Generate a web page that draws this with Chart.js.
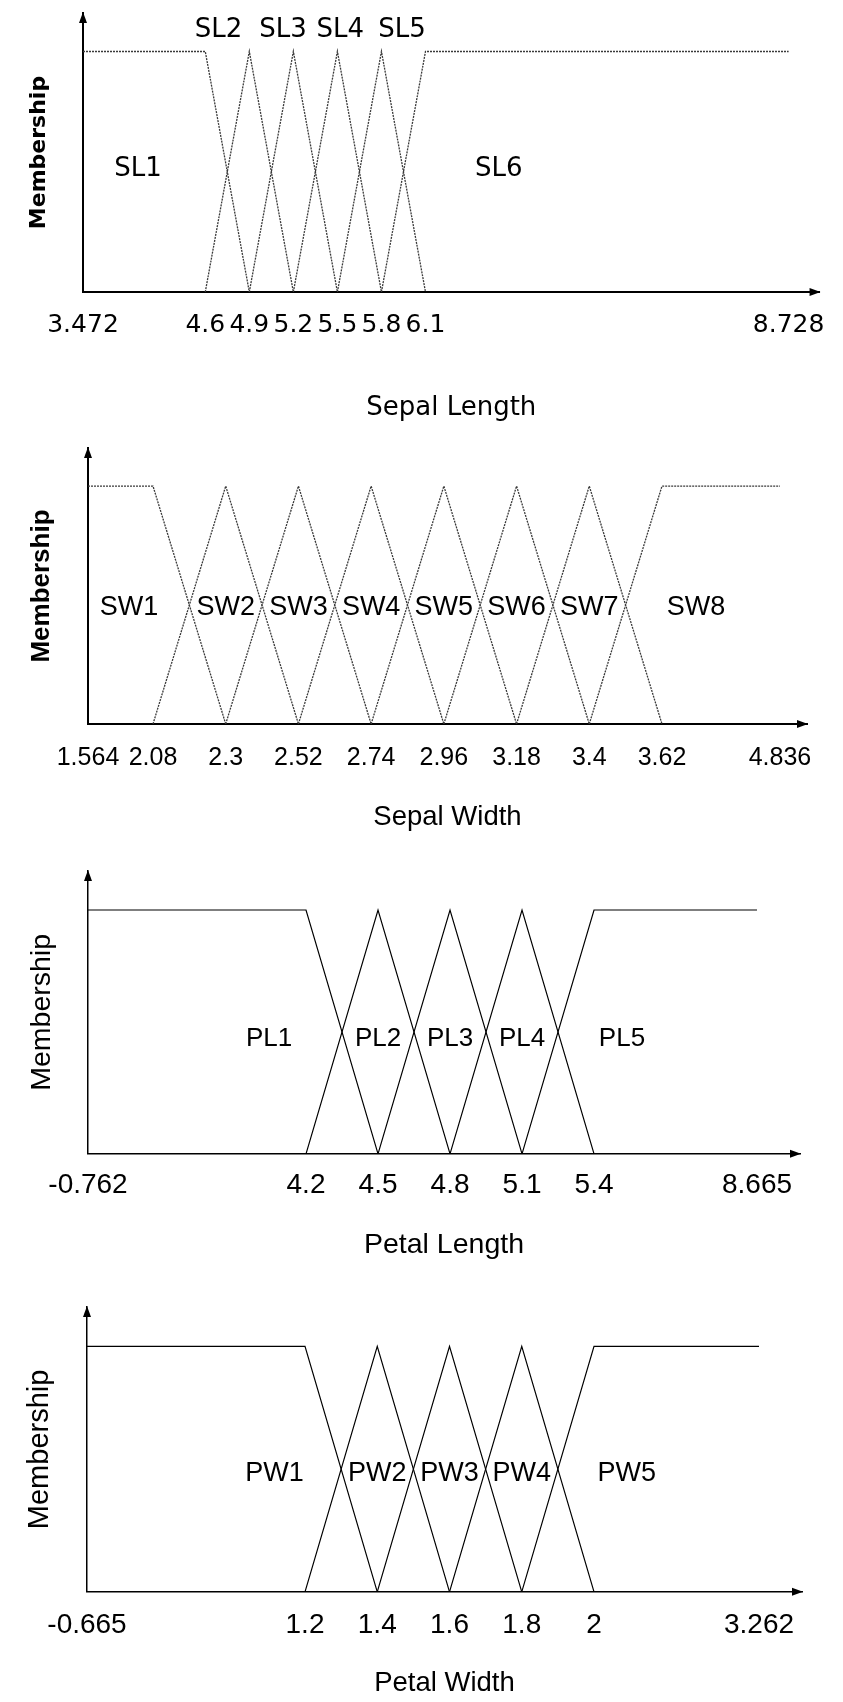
<!DOCTYPE html>
<html>
<head>
<meta charset="utf-8">
<script src="https://cdn.jsdelivr.net/npm/chart.js@4.4.0/dist/chart.umd.min.js"></script>
<style>
  html, body { margin: 0; padding: 0; background: #fff; }
  body { width: 843px; height: 1702px; position: relative; overflow: hidden; }
  canvas { position: absolute; left: 0; }
</style>
</head>
<body>
<canvas id="sepalLength"></canvas>
<canvas id="sepalWidth"></canvas>
<canvas id="petalLength"></canvas>
<canvas id="petalWidth"></canvas>
<script>
// breakpoints of the fuzzy partitions, as printed under each axis
const slBreaks = [3.472, 4.6, 4.9, 5.2, 5.5, 5.8, 6.1, 8.728];
const slNames = ['SL1', 'SL2', 'SL3', 'SL4', 'SL5', 'SL6'];

const swBreaks = [1.564, 2.08, 2.3, 2.52, 2.74, 2.96, 3.18, 3.4, 3.62, 4.836];
const swNames = ['SW1', 'SW2', 'SW3', 'SW4', 'SW5', 'SW6', 'SW7', 'SW8'];

const plBreaks = [-0.762, 4.2, 4.5, 4.8, 5.1, 5.4, 8.665];
const plNames = ['PL1', 'PL2', 'PL3', 'PL4', 'PL5'];

const pwBreaks = [-0.665, 1.2, 1.4, 1.6, 1.8, 2, 3.262];
const pwNames = ['PW1', 'PW2', 'PW3', 'PW4', 'PW5'];

// shoulder on the left, triangles in the middle, shoulder on the right
function membershipSets(breaks) {
  const n = breaks.length - 2;
  const sets = [];
  for (let i = 0; i < n; i++) {
    const m = i === 0 ? [1, 1, 0] : (i === n - 1 ? [0, 1, 1] : [0, 1, 0]);
    sets.push([0, 1, 2].map(k => ({ x: breaks[i + k], y: m[k] })));
  }
  return sets;
}

// x axis of the figure is not uniform: outer ranges are squeezed
class PiecewiseScale extends Chart.LinearScale {
  getPixelForValue(value) {
    if (value === null || value === undefined || isNaN(value)) return NaN;
    const { knots, stops } = this.options;
    let i = 1;
    while (i < knots.length - 1 && value > knots[i]) i++;
    const t = (value - knots[i - 1]) / (knots[i] - knots[i - 1]);
    return this.getPixelForDecimal(stops[i - 1] + t * (stops[i] - stops[i - 1]));
  }
  getValueForPixel(pixel) {
    const d = this.getDecimalForPixel(pixel);
    const { knots, stops } = this.options;
    let i = 1;
    while (i < stops.length - 1 && d > stops[i]) i++;
    const t = (d - stops[i - 1]) / (stops[i] - stops[i - 1]);
    return knots[i - 1] + t * (knots[i] - knots[i - 1]);
  }
}
PiecewiseScale.id = 'piecewise';
PiecewiseScale.defaults = Chart.LinearScale.defaults;
Chart.register(PiecewiseScale);

const axisArrows = {
  id: 'axisArrows',
  afterDraw(chart) {
    const { ctx, chartArea: { left, right, top, bottom } } = chart;
    ctx.save();
    ctx.fillStyle = '#000';
    ctx.beginPath();
    ctx.moveTo(left, top - 1);
    ctx.lineTo(left - 4, top + 10);
    ctx.lineTo(left + 4, top + 10);
    ctx.closePath();
    ctx.fill();
    ctx.beginPath();
    ctx.moveTo(right + 1, bottom);
    ctx.lineTo(right - 10, bottom - 4);
    ctx.lineTo(right - 10, bottom + 4);
    ctx.closePath();
    ctx.fill();
    ctx.restore();
  }
};

const panels = [
  { id: 'sepalLength', title: 'Sepal Length', breaks: slBreaks, names: slNames,
    top: 0, tip: 13, axis: 310, left: 83, right: 829, xWarp: [0.166, 0.465, 0.958],
    tickY: 33, titleY: 98, yTitleX: 39,
    family: "'DejaVu Sans', sans-serif", tickSize: 25, titleSize: 26, labelSize: 26, ySize: 22, yWeight: 'bold',
    labelAt: [[3.98, 0.51], [4.69, 1.09], [5.13, 1.09], [5.52, 1.09], [5.94, 1.09], [6.63, 0.51]],
    line: { color: '#3a3a3a', width: 1.3, dash: [2, 1] }, axisWidth: 2 },
  { id: 'sepalWidth', title: 'Sepal Width', breaks: swBreaks, names: swNames,
    top: 425, tip: 448, axis: 743, left: 88, right: 807, xWarp: [0.0904, 0.7983, 0.9624],
    tickY: 34, titleY: 74, yTitleX: 42,
    family: "'Liberation Sans', Arial, sans-serif", tickSize: 25, titleSize: 27.5, labelSize: 27, ySize: 26, yWeight: 'bold',
    labelAt: [[1.89, 0.49], [2.3, 0.49], [2.52, 0.49], [2.74, 0.49], [2.96, 0.49], [3.18, 0.49], [3.4, 0.49], [3.97, 0.49]],
    line: { color: '#3a3a3a', width: 1.3, dash: [2, 1] }, axisWidth: 2 },
  { id: 'petalLength', title: 'Petal Length', breaks: plBreaks, names: plNames,
    top: 850, tip: 871, axis: 1168, left: 88, right: 800, xWarp: [0.3062, 0.7107, 0.9396],
    tickY: 31, titleY: 77, yTitleX: 42,
    family: "'Liberation Sans', Arial, sans-serif", tickSize: 28, titleSize: 28.5, labelSize: 26, ySize: 28.5, yWeight: 'normal',
    labelAt: [[3.36, 0.47], [4.5, 0.47], [4.8, 0.47], [5.1, 0.47], [5.96, 0.47]],
    line: { color: '#000', width: 1.2, dash: [] }, axisWidth: 1.5 },
  { id: 'petalWidth', title: 'Petal Width', breaks: pwBreaks, names: pwNames,
    top: 1275, tip: 1307, axis: 1608, left: 87, right: 802, xWarp: [0.3049, 0.7091, 0.9399],
    tickY: 33, titleY: 75, yTitleX: 40,
    family: "'Liberation Sans', Arial, sans-serif", tickSize: 28, titleSize: 27.5, labelSize: 27, ySize: 29, yWeight: 'normal',
    labelAt: [[0.94, 0.48], [1.4, 0.48], [1.6, 0.48], [1.8, 0.48], [2.25, 0.48]],
    line: { color: '#000', width: 1.2, dash: [] }, axisWidth: 1.5 }
];

function drawPanel(p) {
  const canvas = document.getElementById(p.id);
  const tickLH = p.tickSize * 1.2, titleLH = p.titleSize * 1.2, yLH = p.ySize * 1.2;
  const tickPad = p.tickY - tickLH / 2;
  const titlePad = p.titleY - p.tickY - tickLH / 2 - titleLH / 2;
  const xAxisH = tickLH + tickPad + titleLH + titlePad;
  const height = Math.ceil(p.axis - p.top + xAxisH);
  canvas.width = 843;
  canvas.height = height;
  canvas.style.top = p.top + 'px';

  const yPadL = p.yTitleX - yLH / 2;
  const yPadR = p.left - yLH - yPadL;
  const b = p.breaks, n = b.length;
  const [s1, s2, s3] = p.xWarp;
  const axisEnd = b[n - 1] + (1 - s3) * (b[n - 1] - b[n - 2]) / (s3 - s2);

  const setLabels = {
    id: 'setLabels',
    afterDatasetsDraw(chart) {
      const { ctx, scales: { x, y } } = chart;
      ctx.save();
      ctx.fillStyle = '#000';
      ctx.font = p.labelSize + 'px ' + p.family;
      ctx.textAlign = 'center';
      ctx.textBaseline = 'middle';
      p.names.forEach((name, i) => {
        const [lx, ly] = p.labelAt[i];
        ctx.fillText(name, x.getPixelForValue(lx), y.getPixelForValue(ly));
      });
      ctx.restore();
    }
  };

  return new Chart(canvas, {
    type: 'line',
    data: {
      datasets: membershipSets(b).map((pts, i) => ({
        label: p.names[i],
        data: pts,
        borderColor: p.line.color,
        borderWidth: p.line.width,
        borderDash: p.line.dash,
        pointRadius: 0,
        tension: 0,
        fill: false
      }))
    },
    options: {
      responsive: false,
      animation: false,
      events: [],
      layout: {
        padding: { top: p.tip - p.top, right: 843 - p.right, bottom: height - (p.axis - p.top) - xAxisH, left: 0 }
      },
      plugins: {
        legend: { display: false },
        tooltip: { enabled: false }
      },
      scales: {
        x: {
          type: 'piecewise',
          position: 'bottom',
          bounds: 'data',
          min: b[0],
          max: axisEnd,
          knots: [b[0], b[1], b[n - 2], b[n - 1], axisEnd],
          stops: [0, s1, s2, s3, 1],
          afterBuildTicks: axis => { axis.ticks = b.map(v => ({ value: v })); },
          grid: { display: false, drawTicks: false },
          border: { display: true, color: '#000', width: p.axisWidth },
          ticks: {
            autoSkip: false, maxRotation: 0, minRotation: 0,
            padding: tickPad, color: '#000',
            font: { family: p.family, size: p.tickSize },
            callback: v => String(v)
          },
          title: {
            display: true, text: p.title, color: '#000',
            font: { family: p.family, size: p.titleSize },
            padding: { top: titlePad, bottom: 0 }
          }
        },
        y: {
          type: 'linear',
          position: 'left',
          min: 0,
          max: 1.16,
          grid: { display: false, drawTicks: false },
          border: { display: true, color: '#000', width: p.axisWidth },
          ticks: { display: false },
          title: {
            display: true, text: 'Membership', color: '#000',
            font: { family: p.family, size: p.ySize, weight: p.yWeight },
            padding: { top: yPadL, bottom: yPadR }
          }
        }
      }
    },
    plugins: [setLabels, axisArrows]
  });
}

panels.forEach(drawPanel);
</script>
</body>
</html>
